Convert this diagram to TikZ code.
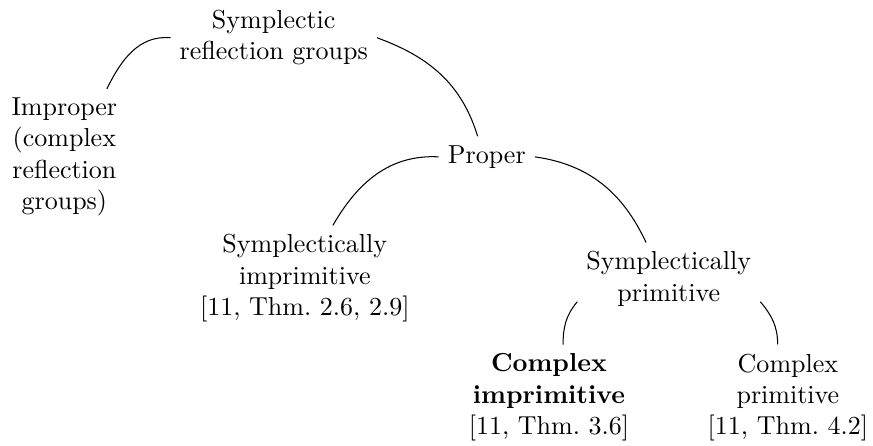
\documentclass[tikz,border=0pt]{standalone}
\usepackage{amsmath}
\usepackage{tikz}

\begin{document}
\begin{tikzpicture}[every node/.style={align=center}]
                \useasboundingbox (0,0) rectangle (11.80,-6.02);
                \node (root) at (3.70,-0.51) {Symplectic\\reflection groups};
                \node (improper) at (0.87,-2.12) {Improper\\(complex\\reflection\\groups)};
                \node (proper) at (6.58,-2.12) {Proper};
                \node (simp) at (4.12,-3.76) {Symplectically\\imprimitive\\{[11, Thm.~2.6, 2.9]}};
                \node (sprim) at (9.04,-3.77) {Symplectically\\primitive};
                \node (cimp) at (7.42,-5.37) {\textbf{Complex}\\\textbf{imprimitive}\\{[11, Thm.~3.6]}};
                \node (cprim) at (10.65,-5.37) {Complex\\primitive\\{[11, Thm.~4.2]}};
                \draw (root.west) to[out=175,in=64] (improper.58);
                \draw (root.east) to[out=-20,in=107] (proper.114);
                \draw (proper.west) to[out=177,in=60] (simp.62);
                \draw (proper.east) to[out=-8,in=115] (sprim.122);
                \draw (sprim.194) to[out=230,in=90] (cimp.75);
                \draw (sprim.346) to[out=-50,in=90] (cprim.101);
            \end{tikzpicture}
\end{document}
